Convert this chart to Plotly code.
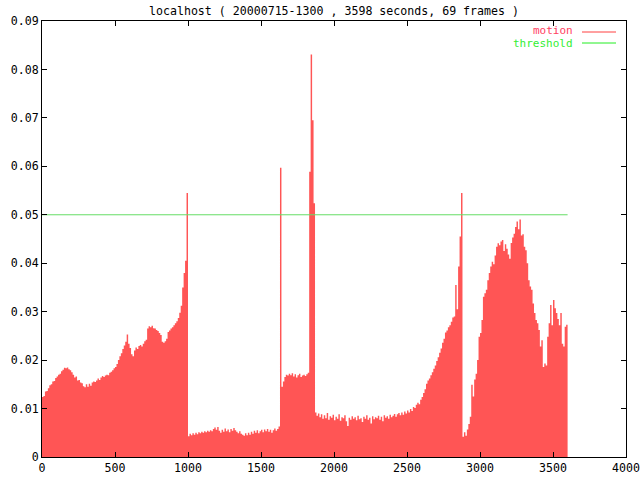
import plotly.graph_objects as go

title_text = "localhost ( 20000715-1300 , 3598 seconds, 69 frames )"
step = 10
times = list(range(0, 3600, step))

motion = [
    # 0 - 990
    .0124, .0126, .0135, .0136, .0142, .0148, .0150, .0156, .0157, .0163,
    .0166, .0170, .0172, .0177, .0180, .0184, .0183, .0185, .0181, .0179,
    .0175, .0170, .0164, .0166, .0158, .0159, .0154, .0152, .0146, .0144,
    .0150, .0145, .0151, .0147, .0154, .0156, .0155, .0158, .0162, .0159,
    .0164, .0167, .0165, .0168, .0170, .0169, .0174, .0176, .0179, .0183,
    .0186, .0192, .0200, .0208, .0214, .0223, .0230, .0238, .0253, .0234,
    .0225, .0212, .0208, .0220, .0226, .0223, .0229, .0231, .0228, .0234,
    .0239, .0242, .0265, .0270, .0268, .0271, .0266, .0265, .0262, .0260,
    .0256, .0252, .0238, .0236, .0239, .0244, .0258, .0261, .0265, .0268,
    .0272, .0276, .0280, .0287, .0298, .0312, .0350, .0380, .0405, .0545,
    # 1000 - 1990
    .0043, .0048, .0045, .0049, .0046, .0050, .0047, .0051, .0049, .0052,
    .0050, .0053, .0051, .0054, .0052, .0055, .0053, .0058, .0061, .0056,
    .0062, .0054, .0050, .0056, .0052, .0059, .0053, .0057, .0051, .0058,
    .0054, .0060, .0055, .0052, .0049, .0053, .0048, .0046, .0044, .0049,
    .0045, .0050, .0046, .0052, .0048, .0054, .0050, .0055, .0049, .0053,
    .0056, .0051, .0057, .0053, .0058, .0052, .0056, .0050, .0055, .0059,
    .0054, .0058, .0063, .0597, .0145, .0156, .0165, .0170, .0168, .0172,
    .0169, .0173, .0166, .0171, .0164, .0169, .0172, .0165, .0168, .0170,
    .0167, .0171, .0174, .0589, .0831, .0695, .0524, .0092, .0085, .0090,
    .0082, .0088, .0079, .0086, .0080, .0091, .0077, .0084, .0081, .0087,
    # 2000 - 2990
    .0076, .0083, .0079, .0088, .0075, .0082, .0080, .0086, .0074, .0064,
    .0081, .0077, .0084, .0079, .0082, .0076, .0085, .0078, .0080, .0072,
    .0083, .0079, .0086, .0077, .0081, .0069, .0084, .0078, .0082, .0080,
    .0085, .0077, .0083, .0074, .0086, .0081, .0084, .0079, .0087, .0082,
    .0085, .0089, .0083, .0088, .0091, .0086, .0092, .0087, .0094, .0090,
    .0096, .0092, .0099, .0095, .0103, .0101, .0108, .0112, .0109, .0118,
    .0124, .0132, .0140, .0151, .0158, .0162, .0169, .0175, .0182, .0189,
    .0198, .0206, .0215, .0224, .0236, .0244, .0257, .0261, .0268, .0272,
    .0279, .0288, .0290, .0355, .0305, .0393, .0455, .0545, .0042, .0051,
    .0044, .0057, .0068, .0083, .0149, .0125, .0160, .0172, .0200, .0248,
    # 3000 - 3590
    .0256, .0283, .0331, .0338, .0345, .0365, .0380, .0393, .0403, .0398,
    .0416, .0434, .0441, .0437, .0445, .0448, .0425, .0439, .0430, .0418,
    .0409, .0442, .0453, .0461, .0475, .0486, .0470, .0490, .0457, .0460,
    .0434, .0427, .0400, .0365, .0352, .0345, .0317, .0297, .0283, .0276,
    .0262, .0228, .0241, .0186, .0193, .0189, .0248, .0276, .0314, .0272,
    .0324, .0307, .0297, .0285, .0272, .0297, .0234, .0228, .0269, .0273,
]

threshold_value = 0.05

x_tick_vals = [0, 500, 1000, 1500, 2000, 2500, 3000, 3500, 4000]
x_tick_text = ["0", "500", "1000", "1500", "2000", "2500", "3000", "3500", "4000"]
y_tick_vals = [0, 0.01, 0.02, 0.03, 0.04, 0.05, 0.06, 0.07, 0.08, 0.09]
y_tick_text = ["0", "0.01", "0.02", "0.03", "0.04", "0.05", "0.06", "0.07", "0.08", "0.09"]

RED = "#ff5555"
GREEN_LINE = "#66dd66"
FONT = "DejaVu Sans Mono"

L, R, T, B = 42, 14, 21, 23
PW, PH = 640 - L - R, 480 - T - B


def px(xpix):
    return (xpix - L) / PW


def py(ypix):
    return (480 - B - ypix) / PH


# boxes drawn as a filled step outline: each value holds for one step interval
box_x = times + [times[-1] + step]
box_y = motion + [motion[-1]]

fig = go.Figure()
fig.add_trace(go.Scatter(
    x=box_x, y=box_y, mode="lines", line_shape="hv",
    line=dict(color=RED, width=0), fill="tozeroy", fillcolor=RED,
    name="motion", showlegend=False,
))
fig.add_trace(go.Scatter(
    x=[times[0], times[-1] + step], y=[threshold_value, threshold_value],
    mode="lines", line=dict(color=GREEN_LINE, width=1),
    name="threshold", showlegend=False,
))

axis_common = dict(
    showline=True, linecolor="black", linewidth=1, mirror="allticks",
    ticks="inside", ticklen=5, tickcolor="black", tickwidth=1,
    showgrid=False, zeroline=False, automargin=False,
    tickfont=dict(family=FONT, size=11.6, color="black"),
)

fig.update_layout(
    width=640, height=480,
    margin=dict(l=L, r=R, t=T, b=B, autoexpand=False),
    paper_bgcolor="white", plot_bgcolor="white",
    showlegend=False,
    xaxis=dict(range=[0, 4000], tickvals=x_tick_vals, ticktext=x_tick_text, **axis_common),
    yaxis=dict(range=[0, 0.09], tickvals=y_tick_vals, ticktext=y_tick_text, **axis_common),
    annotations=[
        dict(text=title_text, xref="paper", yref="paper", x=0.5, y=py(11),
             xanchor="center", yanchor="middle", showarrow=False,
             font=dict(family=FONT, size=11.6, color="black")),
        dict(text="motion", xref="paper", yref="paper", x=px(575), y=py(31),
             xanchor="right", yanchor="middle", showarrow=False,
             font=dict(family=FONT, size=11, color="#ff4060")),
        dict(text="threshold", xref="paper", yref="paper", x=px(575), y=py(43),
             xanchor="right", yanchor="middle", showarrow=False,
             font=dict(family=FONT, size=11, color="#33ee33")),
    ],
    shapes=[
        dict(type="line", xref="paper", yref="paper",
             x0=px(582), x1=px(616), y0=py(32), y1=py(32),
             line=dict(color="#ff4040", width=1)),
        dict(type="line", xref="paper", yref="paper",
             x0=px(582), x1=px(616), y0=py(43), y1=py(43),
             line=dict(color="#22ee22", width=1)),
    ],
)

fig.write_html(
    "out.html",
    config={"displayModeBar": False},
    post_script="document.body.style.margin='0px';document.body.style.padding='0px';",
)
